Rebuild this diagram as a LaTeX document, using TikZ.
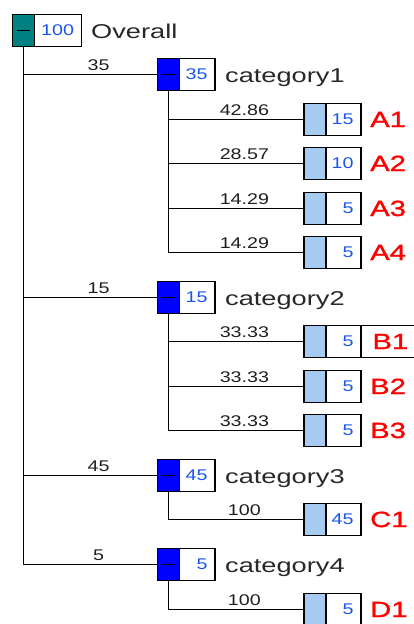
\documentclass[tikz,border=0pt]{standalone}
\usepackage{fontspec}
% wide sans faces for the tree labels
\newfontfamily\wideface[FakeStretch=1.36]{Liberation Sans}
\newfontfamily\numface[FakeStretch=1.27]{Liberation Sans}
\newfontfamily\leafface[FakeStretch=1.33,FakeBold=1.2]{Liberation Sans}

\definecolor{rootteal}{RGB}{0,128,128}
\definecolor{catblue}{RGB}{0,0,255}
\definecolor{leafblue}{RGB}{166,202,240}
\definecolor{numblue}{RGB}{25,85,235}
\definecolor{leafred}{RGB}{255,0,0}
\definecolor{labgray}{RGB}{40,40,40}
\definecolor{edgegray}{RGB}{30,30,30}

% right-aligned count that may overhang the left margin
\newcommand\boxnum[1]{\llap{#1}}

\tikzset{
  sq/.style={draw=black, line width=1.2pt, minimum width=22pt, minimum height=31.5pt,
    inner sep=0pt, outer sep=0pt, anchor=west},
  rootsq/.style={sq, fill=rootteal},
  catsq/.style={sq, fill=catblue},
  leafsq/.style={sq, fill=leafblue},
  minusbar/.style={draw=black, line width=1.8pt},
  numbox/.style={draw=black, line width=1.2pt, fill=white, minimum height=31.5pt,
    inner xsep=7.5pt, inner ysep=0pt, outer sep=0pt, text width=#1, align=right,
    font=\numface\fontsize{15.5}{18}\selectfont, text=numblue, anchor=west},
  numbox/.default=20.5pt,
  catlab/.style={anchor=base west, inner sep=0pt,
    font=\wideface\fontsize{20}{24}\selectfont, text=labgray},
  leaflab/.style={anchor=base west, inner sep=0pt,
    font=\leafface\fontsize{22}{26}\selectfont, text=leafred},
  selbox/.style={draw=black, line width=1.2pt, anchor=west, minimum height=31.5pt,
    text width=50pt, inner xsep=11.5pt, inner ysep=0pt, outer sep=0pt, align=left,
    font=\leafface\fontsize{22}{26}\selectfont, text=leafred},
  elab/.style={anchor=base, yshift=4.5pt, inner sep=0pt,
    font=\numface\fontsize{15.5}{18}\selectfont, text=edgegray},
  link/.style={draw=black, line width=1pt},
}

\begin{document}
\begin{tikzpicture}[x=1pt, y=-1pt]
\useasboundingbox (0,0) rectangle (414,624);
\clip (0,0) rectangle (414,624);

% root
\node[rootsq] (ov-s) at (12.5,30.5) {};
\node[numbox=32pt] (ov-n) at (ov-s.east) {\boxnum{100}};
\node[catlab] (ov-l) at ([xshift=9.5pt,yshift=-7.5pt]ov-n.east) {Overall};

% categories
\node[catsq] (c1-s) at (157.5,74.5) {};
\node[numbox] (c1-n) at (c1-s.east) {\boxnum{35}};
\node[catlab] (c1-l) at ([xshift=10pt,yshift=-7.5pt]c1-n.east) {category1};

\node[catsq] (c2-s) at (157.5,297.5) {};
\node[numbox] (c2-n) at (c2-s.east) {\boxnum{15}};
\node[catlab] (c2-l) at ([xshift=10pt,yshift=-7.5pt]c2-n.east) {category2};

\node[catsq] (c3-s) at (157.5,475.5) {};
\node[numbox] (c3-n) at (c3-s.east) {\boxnum{45}};
\node[catlab] (c3-l) at ([xshift=10pt,yshift=-7.5pt]c3-n.east) {category3};

\node[catsq] (c4-s) at (157.5,564.5) {};
\node[numbox] (c4-n) at (c4-s.east) {\boxnum{5}};
\node[catlab] (c4-l) at ([xshift=10pt,yshift=-7.5pt]c4-n.east) {category4};

% collapse bars on the expanded nodes
\foreach \n in {ov-s,c1-s,c2-s,c3-s,c4-s}
  \draw[minusbar] ([xshift=-6.5pt]\n.center) -- ([xshift=6.5pt]\n.center);

% leaves
\node[leafsq] (a1-s) at (304,119.5) {};
\node[numbox=20pt] (a1-n) at (a1-s.east) {\boxnum{15}};
\node[leaflab] (a1-l) at ([xshift=9pt,yshift=-7.5pt]a1-n.east) {A1};

\node[leafsq] (a2-s) at (304,163.5) {};
\node[numbox=20pt] (a2-n) at (a2-s.east) {\boxnum{10}};
\node[leaflab] (a2-l) at ([xshift=9pt,yshift=-7.5pt]a2-n.east) {A2};

\node[leafsq] (a3-s) at (304,208.5) {};
\node[numbox=20pt] (a3-n) at (a3-s.east) {\boxnum{5}};
\node[leaflab] (a3-l) at ([xshift=9pt,yshift=-7.5pt]a3-n.east) {A3};

\node[leafsq] (a4-s) at (304,252.5) {};
\node[numbox=20pt] (a4-n) at (a4-s.east) {\boxnum{5}};
\node[leaflab] (a4-l) at ([xshift=9pt,yshift=-7.5pt]a4-n.east) {A4};

\node[leafsq] (b1-s) at (304,341.5) {};
\node[numbox=20pt] (b1-n) at (b1-s.east) {\boxnum{5}};
\node[selbox] (b1-l) at (b1-n.east) {B1};

\node[leafsq] (b2-s) at (304,386.5) {};
\node[numbox=20pt] (b2-n) at (b2-s.east) {\boxnum{5}};
\node[leaflab] (b2-l) at ([xshift=9pt,yshift=-7.5pt]b2-n.east) {B2};

\node[leafsq] (b3-s) at (304,430.5) {};
\node[numbox=20pt] (b3-n) at (b3-s.east) {\boxnum{5}};
\node[leaflab] (b3-l) at ([xshift=9pt,yshift=-7.5pt]b3-n.east) {B3};

\node[leafsq] (c1x-s) at (304,519.5) {};
\node[numbox=20pt] (c1x-n) at (c1x-s.east) {\boxnum{45}};
\node[leaflab] (c1x-l) at ([xshift=9pt,yshift=-7.5pt]c1x-n.east) {C1};

\node[leafsq] (d1-s) at (304,609.5) {};
\node[numbox=20pt] (d1-n) at (d1-s.east) {\boxnum{5}};
\node[leaflab] (d1-l) at ([xshift=9pt,yshift=-7.5pt]d1-n.east) {D1};

% root to categories
\draw[link] (ov-s.south) |- (c1-s.west) node[elab,pos=.78] {35};
\draw[link] (ov-s.south) |- (c2-s.west) node[elab,pos=.78] {15};
\draw[link] (ov-s.south) |- (c3-s.west) node[elab,pos=.78] {45};
\draw[link] (ov-s.south) |- (c4-s.west) node[elab,pos=.78] {5};

% categories to items
\draw[link] (c1-s.south) |- (a1-s.west) node[elab,pos=.78] {42.86};
\draw[link] (c1-s.south) |- (a2-s.west) node[elab,pos=.78] {28.57};
\draw[link] (c1-s.south) |- (a3-s.west) node[elab,pos=.78] {14.29};
\draw[link] (c1-s.south) |- (a4-s.west) node[elab,pos=.78] {14.29};

\draw[link] (c2-s.south) |- (b1-s.west) node[elab,pos=.78] {33.33};
\draw[link] (c2-s.south) |- (b2-s.west) node[elab,pos=.78] {33.33};
\draw[link] (c2-s.south) |- (b3-s.west) node[elab,pos=.78] {33.33};

\draw[link] (c3-s.south) |- (c1x-s.west) node[elab,pos=.78] {100};
\draw[link] (c4-s.south) |- (d1-s.west) node[elab,pos=.78] {100};
\end{tikzpicture}
\end{document}
